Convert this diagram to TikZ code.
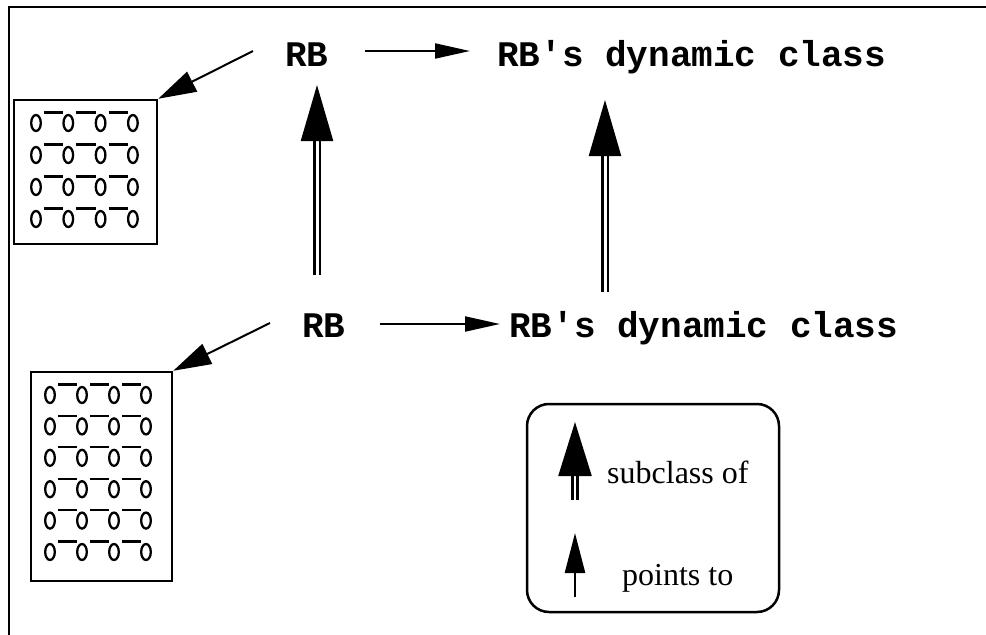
\documentclass[tikz,border=0pt]{standalone}
\usepackage{fontspec}
\setmainfont{Liberation Serif}
\setmonofont{Liberation Mono}
\usetikzlibrary{arrows.meta}
\tikzset{
  code/.style={font=\ttfamily\bfseries\fontsize{36}{40}\selectfont, inner sep=0pt, anchor=base west},
  legtext/.style={font=\fontsize{32}{36}\selectfont, inner sep=0pt, anchor=base west},
  ptr/.style={line width=2pt, -{Triangle[length=35pt,width=15pt]}},
  dptr/.style={line width=2pt, -{Triangle[length=38pt,width=22pt]}},
  sub/.style={line width=2.3pt, double distance=3pt, double=white, -{Triangle[length=56pt,width=32pt]}},
  frame/.style={line width=2.8pt},
  obox/.style={line width=2.5pt},
  ring/.style={line width=2.3pt},
}
\newcommand{\orow}[3]{% x0, y, spacing
  \foreach \k in {0,1,2,3} {\draw[ring] ({#1+\k*#3},#2) ellipse (4.8 and 8);}
  \foreach \k in {0,1,2} {\draw[ring] ({#1+\k*#3+8},{#2-10.5}) -- ({#1+\k*#3+#3-5},{#2-10.5});}
}
\begin{document}
\begin{tikzpicture}[x=1pt,y=-1pt]
\useasboundingbox (0,0) rectangle (986,635);
% frame
\draw[frame] (9,635) -- (9,7) -- (986,7);
% text nodes
\node[code] (rb1) at (285,66) {RB};
\node[code] (dc1) at (497,66) {RB's dynamic class};
\node[code] (rb2) at (302,337) {RB};
\node[code] (dc2) at (509,337) {RB's dynamic class};
% boxes
\node[draw, obox, minimum width=143pt, minimum height=144pt, inner sep=0pt] (box1) at (85.5,172) {};
\node[draw, obox, minimum width=141pt, minimum height=209pt, inner sep=0pt] (box2) at (101.5,476.5) {};
\foreach \r in {0,1,2,3} {\orow{36}{123+\r*32}{32.3}}
\foreach \r in {0,...,5} {\orow{50}{395+\r*31.4}{32}}
% coordinates for connector ends
\coordinate (h1s) at (365,51);
\coordinate (h1e) at (470,51);
\coordinate (h2s) at (380,324);
\coordinate (h2e) at (500,324);
\coordinate (d1s) at (253,51);
\coordinate (d2s) at (270,323);
\coordinate (v1s) at (317,275);
\coordinate (v1e) at (317,85);
\coordinate (v2s) at (605,292);
\coordinate (v2e) at (605,100);
% connectors
\draw[ptr] (h1s) -- (h1e);
\draw[ptr] (h2s) -- (h2e);
\draw[dptr] (d1s) -- (box1.north east);
\draw[dptr] (d2s) -- (box2.north east);
\draw[sub] (v1s) -- (v1e);
\draw[sub] (v2s) -- (v2e);
% legend
\draw[obox, rounded corners=22pt] (527,404) rectangle (779,612);
\node[legtext] (lsub) at (607,483) {subclass of};
\node[legtext] (lpt) at (622,585) {points to};
\coordinate (ls1) at (575,500);
\coordinate (ls2) at (575,422);
\coordinate (lp1) at (575,597);
\coordinate (lp2) at (575,533);
\draw[line width=2.3pt, double distance=2.5pt, double=white, -{Triangle[length=54pt,width=33pt]}] (ls1) -- (ls2);
\draw[line width=2.5pt, -{Triangle[length=40pt,width=20pt]}] (lp1) -- (lp2);
\end{tikzpicture}
\end{document}
